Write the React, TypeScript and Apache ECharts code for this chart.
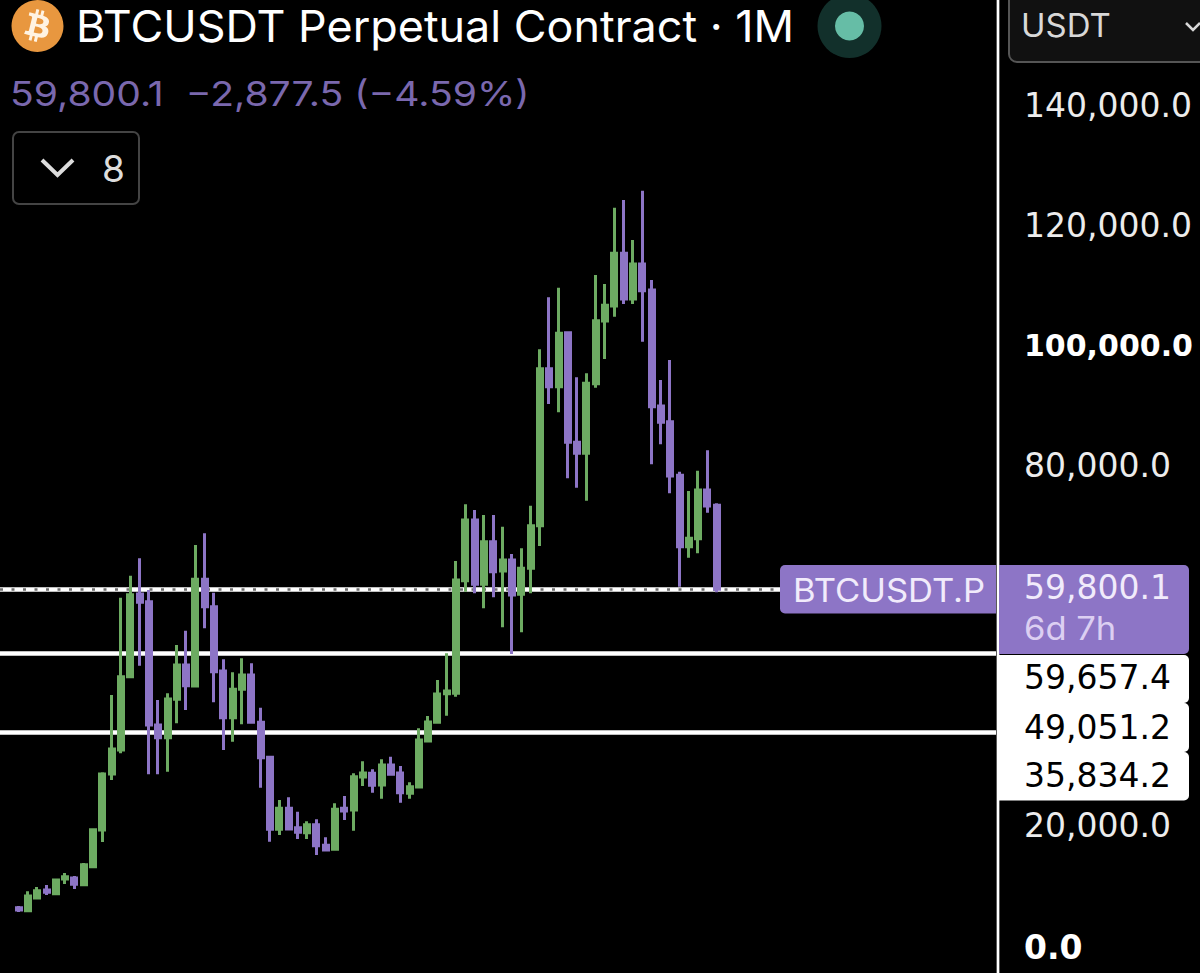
import React, { useEffect, useRef } from "react";
import * as echarts from "echarts";

const opens = [6630,6130,8250,9580,8970,11420,11580,10470,13470,19580,28920,32920,45130,58920,57630,37080,34970,41370,47080,43580,61370,56800,46080,38300,43030,45420,37530,31700,19700,23200,19970,19130,20470,17030,16370,23200,22920,28420,29030,27080,30420,29080,25700,26750,34420,37530,42300,42370,61130,71250,60530,67630,62750,64580,58870,63200,70300,96470,93470,102470,84200,82370,93970,104420,106920,115700,108080,113920,109580,90250,87630,78700,66800,68130,76250,73700];
const closes = [6250,8580,9470,9200,11250,11800,10530,13800,19630,28920,33080,45130,58800,57530,37080,34970,41420,47080,43630,61370,56800,45970,38300,43030,45420,37530,31630,19700,23200,19750,19200,20470,16970,16250,23030,22750,28470,29080,27030,30420,28870,25800,26800,34580,37580,42250,42750,61250,71250,60530,67630,62630,64580,58750,63200,70300,96470,93470,102370,84200,82370,94030,104470,107030,115700,108080,113920,109470,90130,87530,78580,66800,68200,76250,73580,59700];
const lows = [5920,6030,8080,8750,8970,10580,9750,10420,13300,17580,27920,32370,45130,46970,28870,28870,29300,37370,39580,43370,53200,40870,32920,34300,37200,37530,26630,17630,18750,19580,18080,18080,15420,16250,16370,21250,19470,26920,25800,24800,28750,24130,24800,26630,34200,37530,38630,41800,59300,59030,56530,58370,53370,48920,52530,59030,66920,90580,89200,78200,76630,74470,93300,98080,105130,107250,107250,100970,80530,83870,75700,60130,64970,65700,72470,59200];
const highs = [6920,9370,10080,10420,11420,12420,11920,14080,19750,29200,42080,58300,61970,64870,59580,41250,42370,50420,52800,67080,69030,59130,48030,45870,48200,47370,39970,31970,24580,25030,22630,21030,21370,18370,24030,25250,29030,31030,29700,31370,31800,30250,27530,36530,38580,44580,49030,64420,73870,72920,72080,72080,70130,65580,66530,73630,99700,108370,109970,102630,95030,95700,112080,110580,123300,124580,117920,126130,111250,94580,97920,79300,76080,79470,82870,74030];

const priceTicks = [0, 20000, 80000, 100000, 120000, 140000];
const boldTicks = [0, 100000];
const priceLines = [59657.4, 49051.2, 35834.2];
const lastPrice = 59800.1;
const lastPriceLabel = "59,800.1";
const countdown = "6d 7h";
const lineLabels = ["59,657.4", "49,051.2", "35,834.2"];
const title = "BTCUSDT Perpetual Contract · 1M";
const changeText = "59,800.1  −2,877.5 (−4.59%)";
const symbolTag = "BTCUSDT.P";
const currency = "USDT";
const collapsedCount = "8";

const LEAD = 2;
const SLOTS = 108;
const categories = Array.from({ length: SLOTS }, (_, i) => String(i));

const GREEN = "#6DAB62";
const PURPLE = "#8D75C6";
const FONT = "Inter, 'Noto Sans', sans-serif";
const NUM_FONT = "'DejaVu Sans', sans-serif";
const BTC_PATH =
  "M23.638 14.904c-1.602 6.43-8.113 10.34-14.542 8.736C2.67 22.05-1.244 15.525.362 9.105 1.962 2.67 8.475-1.243 14.9.358c6.43 1.605 10.342 8.115 8.738 14.548v-.002zm-6.35-4.613c.24-1.59-.974-2.45-2.64-3.03l.54-2.153-1.315-.33-.525 2.107c-.345-.087-.705-.167-1.064-.25l.526-2.127-1.32-.33-.54 2.165c-.285-.067-.565-.132-.84-.2l-1.815-.45-.35 1.407s.975.225.955.236c.535.136.63.486.615.766l-1.477 5.92c-.075.166-.24.406-.614.314.015.02-.96-.24-.96-.24l-.66 1.51 1.71.426.93.242-.54 2.19 1.32.327.54-2.17c.36.1.705.19 1.05.273l-.51 2.154 1.32.33.545-2.19c2.24.427 3.93.257 4.64-1.774.57-1.637-.03-2.58-1.217-3.196.854-.193 1.5-.76 1.68-1.93h.01zm-3.01 4.22c-.404 1.64-3.157.75-4.05.53l.72-2.9c.896.23 3.757.67 3.33 2.37zm.41-4.24c-.37 1.49-2.662.735-3.405.55l.654-2.64c.744.18 3.137.524 2.75 2.084v.006z";

function txt(text: string, x: number, y: number, fontSize: number, fill: string, scaleX = 1, fontFamily = FONT) {
  return {
    type: "text",
    z: 20,
    silent: true,
    x,
    y,
    scaleX,
    style: { text, x: 0, y: 0, fontSize, fill, fontFamily, textVerticalAlign: "middle", textAlign: "left" },
  };
}
function box(x: number, y: number, width: number, height: number, r: any, fill: string, z = 15) {
  return { type: "rect", z, silent: true, shape: { x, y, width, height, r }, style: { fill } };
}

export default function App() {
  const ref = useRef<HTMLDivElement>(null);
  useEffect(() => {
    if (!ref.current) return;
    echarts.graphic.registerShape("btcLogo", echarts.graphic.extendPath(BTC_PATH as any, {}) as any);
    const chart = echarts.init(ref.current, undefined, { renderer: "svg" });
    const candles = opens.map((o, i) => [i + LEAD, o, closes[i], lows[i], highs[i]]);
    chart.setOption({
      animation: false,
      backgroundColor: "#000",
      grid: { left: 0, width: 996, top: 107.5, height: 840, containLabel: false, outerBoundsMode: "none" },
      xAxis: { type: "category", data: categories, boundaryGap: false, show: false },
      yAxis: {
        type: "value",
        min: 0,
        max: 140000,
        interval: 20000,
        position: "right",
        axisLine: { show: false },
        axisTick: { show: false },
        splitLine: { show: false },
        axisLabel: {
          margin: 28,
          align: "left",
          formatter: (v: number) => {
            if (!priceTicks.includes(v)) return "";
            const s = v.toLocaleString("en-US", { minimumFractionDigits: 1, maximumFractionDigits: 1 });
            return v === 0 ? `{z|${s}}` : boldTicks.includes(v) ? `{b|${s}}` : `{n|${s}}`;
          },
          rich: {
            n: { fontFamily: NUM_FONT, fontSize: 33, color: "#ececec", padding: [0, 0, 5, 0] },
            b: { fontFamily: NUM_FONT, fontSize: 30, fontWeight: "bold", color: "#ffffff", padding: [0, 0, 5, 0] },
            z: { fontFamily: NUM_FONT, fontSize: 33, fontWeight: "bold", color: "#ffffff" },
          },
        },
      },
      series: [
        {
          type: "candlestick",
          data: candles,
          encode: { x: 0, y: [1, 2, 3, 4] },
          barWidth: 5.5,
          itemStyle: { color: GREEN, color0: PURPLE, borderColor: GREEN, borderColor0: PURPLE, borderWidth: 3 },
          markLine: {
            silent: true,
            symbol: "none",
            z: 1,
            label: { show: false },
            data: [
              ...priceLines.map((v) => ({ yAxis: v, lineStyle: { color: "#ffffff", width: 4.5, type: "solid" } })),
              { yAxis: lastPrice - 143, lineStyle: { color: "#6f6f6f", width: 2.5, type: [3, 8.5] } },
            ],
          },
        },
      ],
      graphic: [
        { type: "line", z: 14, silent: true, shape: { x1: 998, y1: 0, x2: 998, y2: 973 }, style: { stroke: "#fff", lineWidth: 2.7 } },
        // header
        { type: "circle", z: 18, silent: true, shape: { cx: 37.5, cy: 26, r: 20 }, style: { fill: "#FFF3E2" } },
        { type: "btcLogo", z: 19, silent: true, x: 11.5, y: 0, scaleX: 52 / 24, scaleY: 52 / 24, style: { fill: "#E8973F" } },
        txt(title, 76, 26, 43.5, "#ffffff", 1.032),
        txt(changeText, 10, 94, 34, "#7A68AE", 1.15),
        { type: "rect", z: 15, silent: true, shape: { x: 13, y: 132, width: 126, height: 72, r: 6 }, style: { fill: "#000", stroke: "#444", lineWidth: 2 } },
        { type: "polyline", z: 18, silent: true, shape: { points: [[42, 160], [57.5, 175], [73, 160]] }, style: { fill: "none", stroke: "#dddddd", lineWidth: 4 } },
        txt(collapsedCount, 102, 168, 37, "#dddddd"),
        { type: "circle", z: 15, silent: true, shape: { cx: 849.5, cy: 26, r: 32 }, style: { fill: "#12302B" } },
        { type: "circle", z: 16, silent: true, shape: { cx: 849.5, cy: 26, r: 14.5 }, style: { fill: "#66BDA6" } },
        // currency selector
        { type: "rect", z: 15, silent: true, shape: { x: 1009, y: -12, width: 210, height: 74, r: 8 }, style: { fill: "#111", stroke: "#555", lineWidth: 2 } },
        txt(currency, 1021, 26, 32, "#d8d8d8", 1.03),
        { type: "polyline", z: 18, silent: true, shape: { points: [[1186, 23], [1193, 30], [1200, 23]] }, style: { fill: "none", stroke: "#d8d8d8", lineWidth: 2.5 } },
        // price tags
        box(780, 565, 216, 48.5, [5, 0, 0, 5], PURPLE),
        txt(symbolTag, 793, 590, 32, "#F1EBFB", 1.08),
        box(999, 565, 190, 89, [0, 5, 5, 0], PURPLE),
        txt(lastPriceLabel, 1024, 587, 33, "#F1EBFB", 1, NUM_FONT),
        txt(countdown, 1024, 628, 32, "#DCCFF2", 1.08),
        box(999, 655, 190, 48, [0, 5, 5, 0], "#ffffff"),
        box(999, 703, 190, 49, [0, 5, 5, 0], "#ffffff"),
        box(999, 752, 190, 48.5, [0, 5, 5, 0], "#ffffff"),
        txt(lineLabels[0], 1024, 677, 33, "#000000", 1, NUM_FONT),
        txt(lineLabels[1], 1024, 727, 33, "#000000", 1, NUM_FONT),
        txt(lineLabels[2], 1024, 775, 33, "#000000", 1, NUM_FONT),
      ],
    });
    return () => chart.dispose();
  }, []);
  return <div ref={ref} style={{ position: "absolute", left: 0, top: 0, width: 1200, height: 973, background: "#000" }} />;
}
